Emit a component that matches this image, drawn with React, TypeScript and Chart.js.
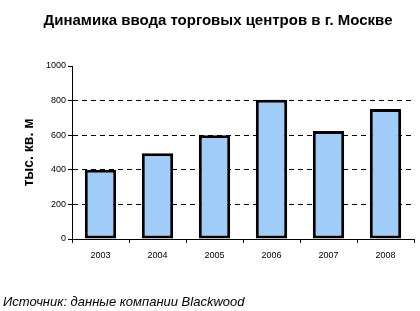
import React, { useEffect, useRef } from "react";
import { Chart, registerables } from "chart.js";

Chart.register(...registerables);

const years = ["2003", "2004", "2005", "2006", "2007", "2008"];
const values = [400, 495, 600, 805, 625, 752];
const yTicks = [0, 200, 400, 600, 800, 1000];
const titleText = "Динамика ввода торговых центров в г. Москве";
const yTitle = "тыс. кв. м";
const sourceText = "Источник: данные компании Blackwood";

const FONT = "Arial, 'Liberation Sans', sans-serif";

const textPlugin = {
  id: "texts",
  afterDraw(chart: any) {
    const ctx = chart.ctx;
    ctx.save();
    ctx.fillStyle = "#000";
    ctx.font = `bold 15px ${FONT}`;
    ctx.textAlign = "center";
    ctx.textBaseline = "alphabetic";
    ctx.fillText(titleText, 218, 25);
    ctx.font = `italic 13px ${FONT}`;
    ctx.textAlign = "left";
    ctx.fillText(sourceText, 3, 306);
    ctx.restore();
  },
};

export default function App() {
  const ref = useRef<HTMLCanvasElement>(null);
  useEffect(() => {
    const chart = new Chart(ref.current!, {
      type: "bar",
      data: {
        labels: years,
        datasets: [
          {
            data: values,
            backgroundColor: "#A0CCF8",
            borderColor: "#000",
            borderWidth: 3,
            borderSkipped: false,
            barPercentage: 0.55,
            categoryPercentage: 1,
          },
        ],
      },
      options: {
        animation: false,
        responsive: false,
        devicePixelRatio: 1,
        layout: { padding: { left: 0, top: 66, right: 6, bottom: 0 } },
        plugins: { legend: { display: false }, tooltip: { enabled: false }, title: { display: false } },
        scales: {
          x: {
            offset: true,
            grid: {
              offset: true,
              drawOnChartArea: false,
              drawTicks: true,
              tickLength: 4,
              tickColor: "#000",
              color: "#000",
            },
            border: { display: true, color: "#000", width: 1 },
            ticks: { color: "#000", font: { family: FONT, size: 9 }, padding: 7, maxRotation: 0 },
            afterFit: (s: any) => {
              s.height = 72;
            },
          },
          y: {
            min: 0,
            max: 1000,
            afterBuildTicks: (s: any) => {
              s.ticks = yTicks.map((v) => ({ value: v }));
            },
            grid: {
              color: (c: any) => (c.tick && (c.tick.value === 0 || c.tick.value === 1000) ? "rgba(0,0,0,0)" : "#000"),
              tickColor: "#000",
              tickLength: 4,
              lineWidth: 1,
            },
            border: { display: true, color: "#000", width: 1, dash: [5, 4] },
            ticks: {
              color: "#000",
              font: { family: FONT, size: 9 },
              padding: 2,
              callback: (v: any) => String(v),
            },
            title: {
              display: true,
              text: yTitle,
              color: "#000",
              font: { family: FONT, size: 14, weight: "bold" },
              padding: { top: 21, bottom: 0 },
            },
            afterFit: (s: any) => {
              s.width = 72;
            },
          },
        },
      },
      plugins: [textPlugin],
    });
    return () => chart.destroy();
  }, []);
  return (
    <div style={{ position: "fixed", left: 0, top: 0, width: 420, height: 311, background: "#fff" }}>
      <canvas ref={ref} width={420} height={311} style={{ width: 420, height: 311 }} />
    </div>
  );
}
